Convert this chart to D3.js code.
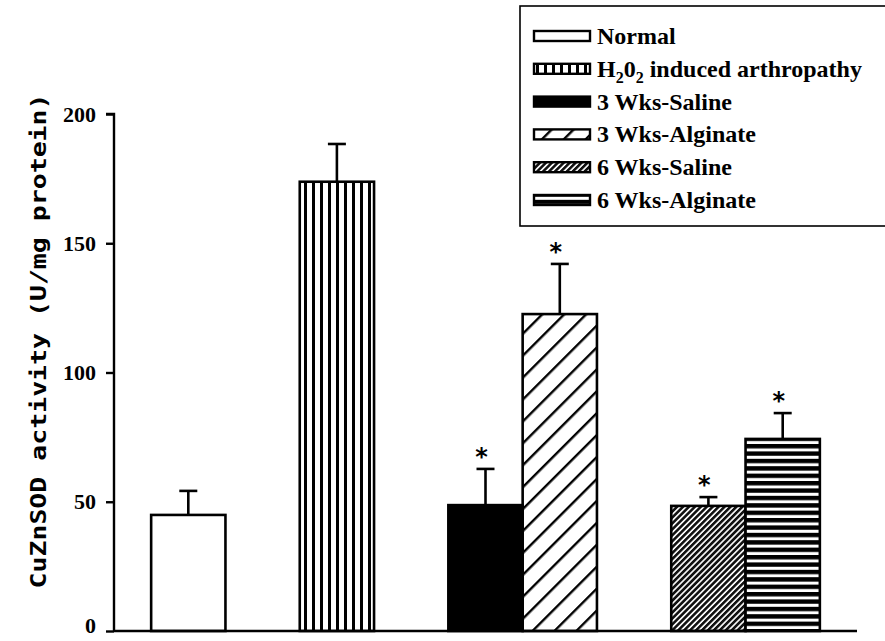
<!DOCTYPE html>
<html>
<head>
<meta charset="utf-8">
<script src="https://cdn.jsdelivr.net/npm/d3@7"></script>
<style>
  body { margin: 0; background: #fff; }
  svg { display: block; }
  .tick-label { font-family: "Liberation Serif", serif; font-weight: bold; font-size: 22px; }
  .legend-label { font-family: "Liberation Serif", serif; font-weight: bold; font-size: 24px; }
  .y-title { font-family: "DejaVu Sans Mono", monospace; font-weight: bold; font-size: 22px; }
</style>
</head>
<body>
<svg id="chart" width="885" height="641"></svg>
<script>
// groups along the x axis and the bars inside each of them
const groups = ["Normal", "H2O2", "3 Wks", "6 Wks"];
const series = ["Normal", "H2O2 induced arthropathy", "3 Wks-Saline", "3 Wks-Alginate", "6 Wks-Saline", "6 Wks-Alginate"];
const seriesGroup = [0, 1, 2, 2, 3, 3];
const means = [44.9, 173.8, 48.7, 122.6, 48.4, 74.3];
const errors = [9.3, 14.6, 14.0, 19.4, 3.4, 10.0];
const starred = [false, false, true, true, true, true];
const yTicks = [0, 50, 100, 150, 200];
const patterns = ["none", "vstripe", "solid", "hatch", "densehatch", "hstripe"];

const margin = { top: 114, left: 114, right: 28, bottom: 10 };
const W = 885, H = 641;
const baseY = 631;

const svg = d3.select("#chart");
const defs = svg.append("defs");

// fills
defs.append("pattern").attr("id", "vstripe").attr("patternUnits", "userSpaceOnUse")
  .attr("width", 8).attr("height", 8)
  .append("rect").attr("x", 0).attr("width", 3).attr("height", 8).attr("fill", "#000");

const hatch = defs.append("pattern").attr("id", "hatch").attr("patternUnits", "userSpaceOnUse")
  .attr("width", 15.5).attr("height", 15.5).attr("patternTransform", "rotate(45)");
hatch.append("rect").attr("width", 2.4).attr("height", 15.5).attr("fill", "#000");

const dense = defs.append("pattern").attr("id", "densehatch").attr("patternUnits", "userSpaceOnUse")
  .attr("width", 4.2).attr("height", 4.2).attr("patternTransform", "rotate(45)");
dense.append("rect").attr("width", 4.2).attr("height", 4.2).attr("fill", "#fff");
dense.append("rect").attr("width", 2.6).attr("height", 4.2).attr("fill", "#111");

const hs = defs.append("pattern").attr("id", "hstripe").attr("patternUnits", "userSpaceOnUse")
  .attr("width", 8).attr("height", 7.4);
hs.append("rect").attr("width", 8).attr("height", 7.4).attr("fill", "#fff");
hs.append("rect").attr("y", 0).attr("width", 8).attr("height", 4.4).attr("fill", "#000");

const fillFor = p => p === "none" ? "#fff" : p === "solid" ? "#000" : `url(#${p})`;

// slot layout: half a bar of padding at the ends, one bar width between groups
const slotStart = [];
let pos = 0.5;
series.forEach((s, i) => {
  if (i > 0 && seriesGroup[i] !== seriesGroup[i - 1]) pos += 1;
  slotStart.push(pos);
  pos += 1;
});
const totalSlots = pos + 0.5;

const x = d3.scaleLinear().domain([0, totalSlots]).range([margin.left, W - margin.right]);
const y = d3.scaleLinear().domain([0, 200]).range([baseY, margin.top]);

// bars
const bars = svg.append("g");
bars.selectAll("rect")
  .data(series)
  .join("rect")
  .attr("x", (d, i) => x(slotStart[i]))
  .attr("width", (d, i) => x(slotStart[i] + 1) - x(slotStart[i]))
  .attr("y", (d, i) => y(means[i]))
  .attr("height", (d, i) => baseY - y(means[i]))
  .attr("fill", (d, i) => fillFor(patterns[i]))
  .attr("stroke", "#000")
  .attr("stroke-width", 2.6);

// error bars (upper only)
const err = svg.append("g").attr("stroke", "#000").attr("stroke-width", 2.6);
series.forEach((s, i) => {
  const cx = x(slotStart[i] + 0.5);
  err.append("line").attr("x1", cx).attr("x2", cx)
    .attr("y1", y(means[i])).attr("y2", y(means[i] + errors[i]));
  err.append("line").attr("x1", cx - 9).attr("x2", cx + 9)
    .attr("y1", y(means[i] + errors[i])).attr("y2", y(means[i] + errors[i]));
});

// significance stars
svg.append("g").selectAll("text")
  .data(series.filter((s, i) => starred[i]))
  .join("text")
  .attr("x", d => x(slotStart[series.indexOf(d)] + 0.5) - 4)
  .attr("y", d => y(means[series.indexOf(d)] + errors[series.indexOf(d)]) - 4)
  .attr("text-anchor", "middle")
  .attr("font-family", "DejaVu Sans, sans-serif")
  .attr("font-weight", "bold")
  .attr("font-size", 24)
  .text("*");

// axes
const yAxis = svg.append("g")
  .attr("transform", `translate(${margin.left},0)`)
  .call(d3.axisLeft(y).tickValues(yTicks).tickSize(8).tickPadding(10));
yAxis.select(".domain").attr("stroke-width", 2.4).attr("d", `M-8,${y(200)}H0V${baseY}`);
yAxis.selectAll(".tick line").attr("stroke-width", 2.4);
yAxis.selectAll(".tick text").attr("class", "tick-label").attr("font-size", null).attr("font-family", null).attr("fill", "#000");
// keep the bottom label inside the frame
yAxis.selectAll(".tick text").filter(d => d === 0).attr("dy", "0.05em");

svg.append("line")
  .attr("x1", x(0)).attr("x2", x(totalSlots))
  .attr("y1", baseY).attr("y2", baseY)
  .attr("stroke", "#000").attr("stroke-width", 2.4);

// y title
svg.append("text")
  .attr("class", "y-title")
  .attr("transform", `translate(46,${341}) rotate(-90)`)
  .attr("text-anchor", "middle")
  .attr("textLength", 495)
  .attr("lengthAdjust", "spacingAndGlyphs")
  .text("CuZnSOD activity (U/mg protein)");

// legend
const legend = svg.append("g");
legend.append("rect")
  .attr("x", 520).attr("y", 6).attr("width", 400).attr("height", 220)
  .attr("fill", "#fff").attr("stroke", "#000").attr("stroke-width", 1.6);

const rowY = d3.scaleLinear().domain([0, series.length - 1]).range([36, 200]);
series.forEach((s, i) => {
  legend.append("rect")
    .attr("x", 534).attr("y", rowY(i) - 5).attr("width", 56).attr("height", 10)
    .attr("fill", fillFor(patterns[i])).attr("stroke", "#000").attr("stroke-width", 2.4);
  const t = legend.append("text").attr("class", "legend-label")
    .attr("x", 597).attr("y", rowY(i) + 8);
  if (i === 1) {
    t.append("tspan").text("H");
    t.append("tspan").attr("font-size", 16).attr("dy", 6).text("2");
    t.append("tspan").attr("dy", -6).text("0");
    t.append("tspan").attr("font-size", 16).attr("dy", 6).text("2");
    t.append("tspan").attr("dy", -6).text(" induced arthropathy");
  } else {
    t.text(s);
  }
});
</script>
</body>
</html>
